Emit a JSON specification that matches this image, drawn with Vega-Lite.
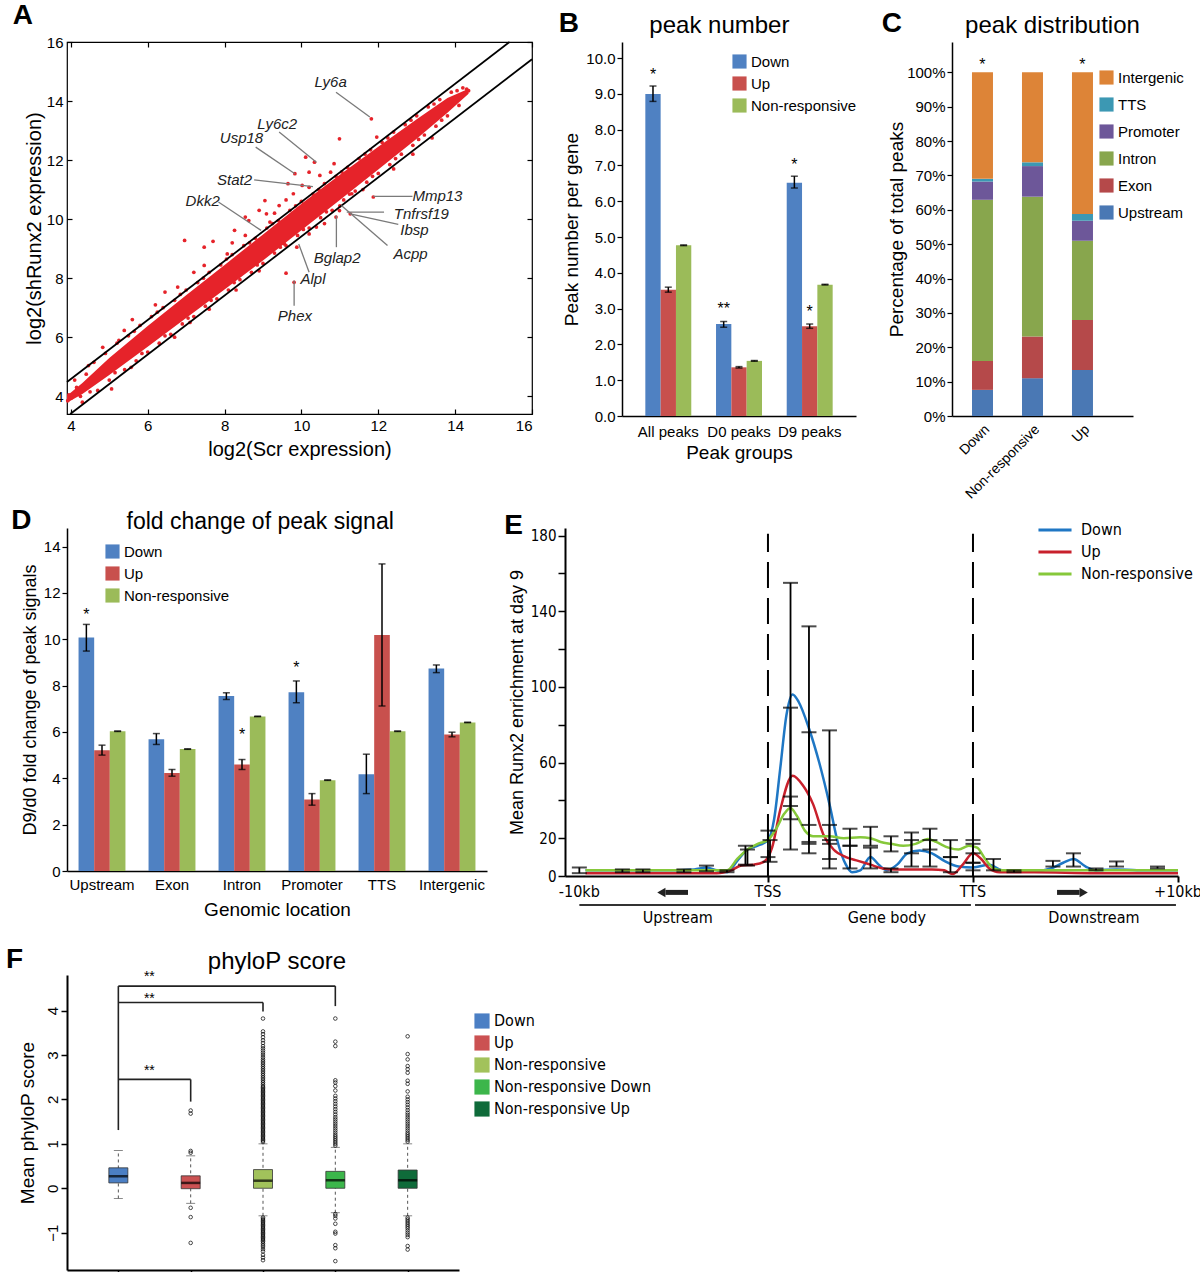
{
"$schema":"https://vega.github.io/schema/vega-lite/v6.json",
"background":"white",
"padding":{"left":6,"top":2,"right":0,"bottom":0},
"spacing":5,
"resolve":{"scale":{"color":"independent","xOffset":"independent"}},
"config":{
 "font":"Liberation Sans",
 "view":{"stroke":null},
 "axis":{"grid":false,"labelOverlap":false,"domainColor":"#000","tickColor":"#000","labelColor":"#000","titleColor":"#000","titleFontWeight":"normal","labelFontSize":14,"titleFontSize":18,"domainWidth":1.5,"tickWidth":1.2},
 "legend":{"labelColor":"#000","labelFontSize":15},
 "title":{"fontWeight":"normal","fontSize":24,"color":"#000"},
 "text":{"color":"#000"}
},
"vconcat":[
{"hconcat":[
 {"title":{"text":"A","anchor":"start","frame":"bounds","fontSize":28,"fontWeight":"bold","offset":-24,"dx":-11},
  "vconcat":[{
   "title":{"text":" ","fontSize":24,"offset":4},
   "width":465,"height":372,
   "view":{"stroke":"#000","strokeWidth":1.2},
   "resolve":{"axis":{"x":"independent","y":"independent"}},
   "layer":[
    {"data":{"values":[{"x":3.9,"lo":3.78,"hi":4.02},{"x":4.3,"lo":4.08,"hi":4.45},{"x":5,"lo":4.72,"hi":5.3},{"x":6,"lo":5.68,"hi":6.38},{"x":7,"lo":6.65,"hi":7.42},{"x":8,"lo":7.62,"hi":8.45},{"x":9,"lo":8.6,"hi":9.48},{"x":10,"lo":9.62,"hi":10.52},{"x":11,"lo":10.65,"hi":11.5},{"x":12,"lo":11.68,"hi":12.45},{"x":13,"lo":12.72,"hi":13.38},{"x":13.8,"lo":13.6,"hi":14.1},{"x":14.35,"lo":14.25,"hi":14.42}]},
     "mark":{"type":"area","color":"#e6232a"},
     "encoding":{
      "x":{"field":"x","type":"quantitative","scale":{"domain":[3.9,16],"nice":false,"zero":false},"axis":{"values":[4,6,8,10,12,14,16],"tickCount":7,"labelOverlap":false,"title":"log2(Scr expression)","titleFontSize":20,"labelFontSize":15,"tickSize":-5,"domain":false,"labelPadding":9,"titlePadding":6}},
      "y":{"field":"lo","type":"quantitative","scale":{"domain":[3.4,16],"nice":false,"zero":false},"axis":{"values":[4,6,8,10,12,14,16],"tickCount":7,"labelOverlap":false,"title":"log2(shRunx2 expression)","titleFontSize":20,"labelFontSize":15,"tickSize":-5,"domain":false,"labelPadding":9,"titlePadding":2}},
      "y2":{"field":"hi"}}},
    {"data":{"values":[
{"x":4.1,"y":4.55},{"x":4.6,"y":5.15},{"x":4.9,"y":5.45},{"x":5.2,"y":5.8},{"x":5.5,"y":6.05},{"x":5.8,"y":6.4},{"x":6.1,"y":6.7},{"x":6.4,"y":7.0},{"x":6.7,"y":7.25},{"x":7.0,"y":7.6},{"x":7.3,"y":7.85},{"x":7.6,"y":8.2},{"x":7.9,"y":8.45},{"x":8.2,"y":8.8},{"x":8.5,"y":9.1},{"x":8.8,"y":9.35},{"x":9.1,"y":9.7},{"x":9.4,"y":9.95},{"x":9.7,"y":10.3},{"x":10.0,"y":10.6},{"x":10.3,"y":10.85},{"x":10.6,"y":11.2},{"x":10.9,"y":11.45},{"x":11.2,"y":11.75},{"x":11.5,"y":12.05},{"x":11.8,"y":12.35},{"x":12.1,"y":12.6},{"x":12.4,"y":12.95},{"x":12.7,"y":13.2},{"x":13.0,"y":13.5},{"x":13.3,"y":13.8},{"x":13.6,"y":14.05},{"x":13.9,"y":14.3},{"x":14.2,"y":14.45},
{"x":4.4,"y":4.75},{"x":5.65,"y":6.2},{"x":6.25,"y":6.85},{"x":6.85,"y":7.45},{"x":7.45,"y":8.0},{"x":8.05,"y":8.65},{"x":8.65,"y":9.2},{"x":9.25,"y":9.85},{"x":9.85,"y":10.45},{"x":10.45,"y":11.0},{"x":11.05,"y":11.6},{"x":11.65,"y":12.2},{"x":12.25,"y":12.75},{"x":12.85,"y":13.35},{"x":13.45,"y":13.9},{"x":14.05,"y":14.35},
{"x":4.3,"y":3.8},{"x":4.7,"y":4.2},{"x":5.0,"y":4.55},{"x":5.4,"y":4.9},{"x":5.7,"y":5.2},{"x":6.0,"y":5.5},{"x":6.3,"y":5.8},{"x":6.6,"y":6.1},{"x":6.9,"y":6.45},{"x":7.2,"y":6.7},{"x":7.5,"y":7.05},{"x":7.8,"y":7.3},{"x":8.1,"y":7.6},{"x":8.4,"y":7.95},{"x":8.7,"y":8.2},{"x":9.0,"y":8.5},{"x":9.3,"y":8.85},{"x":9.6,"y":9.1},{"x":9.9,"y":9.45},{"x":10.2,"y":9.7},{"x":10.5,"y":10.05},{"x":10.8,"y":10.3},{"x":11.1,"y":10.65},{"x":11.4,"y":10.95},{"x":11.7,"y":11.25},{"x":12.0,"y":11.55},{"x":12.3,"y":11.85},{"x":12.6,"y":12.2},{"x":12.9,"y":12.5},{"x":13.2,"y":12.85},{"x":13.5,"y":13.15},{"x":13.8,"y":13.5},{"x":14.1,"y":13.85},
{"x":4.5,"y":4.15},{"x":5.15,"y":4.8},{"x":5.85,"y":5.45},{"x":6.45,"y":6.05},{"x":7.05,"y":6.65},{"x":7.65,"y":7.25},{"x":8.25,"y":7.85},{"x":8.85,"y":8.45},{"x":9.45,"y":9.05},{"x":10.05,"y":9.65},{"x":10.65,"y":10.25},{"x":11.25,"y":10.85},{"x":11.85,"y":11.45},{"x":12.45,"y":12.05},{"x":13.05,"y":12.7},{"x":13.65,"y":13.35},
{"x":3.92,"y":3.85},{"x":3.95,"y":4.05},{"x":4.02,"y":3.95},{"x":4.15,"y":4.3},{"x":4.25,"y":4.0},{"x":14.3,"y":14.4},{"x":14.35,"y":14.35},
{"x":11.82,"y":13.4},{"x":10.99,"y":12.72},{"x":11.96,"y":12.78},{"x":10.11,"y":12.1},{"x":10.34,"y":11.93},{"x":10.85,"y":11.88},{"x":9.83,"y":11.54},{"x":10.2,"y":11.59},{"x":10.48,"y":11.48},{"x":10.76,"y":11.59},{"x":9.65,"y":11.2},{"x":10.02,"y":11.14},{"x":9.79,"y":10.86},{"x":10.2,"y":11.08},{"x":9.05,"y":10.63},{"x":9.42,"y":10.46},{"x":9.09,"y":10.18},{"x":8.63,"y":9.95},{"x":9.18,"y":9.9},{"x":8.26,"y":9.62},{"x":8.54,"y":9.45},{"x":6.96,"y":9.28},{"x":7.7,"y":9.25},{"x":7.47,"y":9.05},{"x":8.07,"y":8.82},{"x":7.47,"y":8.43},{"x":6.45,"y":7.53},{"x":6.78,"y":7.7},{"x":5.39,"y":6.23},{"x":4.83,"y":5.66},{"x":5.25,"y":5.89},{"x":4.46,"y":5.04},{"x":8.54,"y":10.07},{"x":8.9,"y":10.3},{"x":9.6,"y":10.65},{"x":9.3,"y":10.2},{"x":8.2,"y":9.2},{"x":7.2,"y":8.2},{"x":6.2,"y":7.1},{"x":5.6,"y":6.6},
{"x":11.87,"y":10.75},{"x":10.99,"y":10.29},{"x":11.27,"y":10.18},{"x":10.9,"y":10.07},{"x":11.31,"y":10.86},{"x":11.6,"y":11.0},{"x":9.88,"y":9.05},{"x":9.56,"y":9.16},{"x":9.81,"y":7.86},{"x":9.6,"y":8.17},{"x":10.2,"y":9.5},{"x":10.39,"y":9.73},{"x":5.06,"y":4.25},{"x":5.57,"y":4.98},{"x":8.3,"y":7.6},{"x":8.9,"y":8.25},{"x":7.6,"y":6.95},{"x":12.4,"y":11.7},{"x":12.9,"y":12.2},{"x":13.4,"y":12.75},{"x":6.7,"y":6.0},{"x":10.6,"y":9.85},{"x":11.0,"y":10.45},{"x":7.1,"y":6.5}]},
     "mark":{"type":"circle","color":"#e6232a","size":14,"opacity":1},
     "encoding":{"x":{"field":"x","type":"quantitative","axis":null},"y":{"field":"y","type":"quantitative","axis":null}}},
    {"data":{"values":[{"x":3.9,"y":4.485,"x2":15.415,"y2":16},{"x":3.985,"y":3.4,"x2":16,"y2":15.415}]},
     "mark":{"type":"rule","color":"#000","strokeWidth":1.8},
     "encoding":{"x":{"field":"x","type":"quantitative","axis":{"orient":"top","values":[4,6,8,10,12,14,16],"tickCount":7,"labels":false,"title":null,"tickSize":-5,"domain":false}},"y":{"field":"y","type":"quantitative","axis":{"orient":"right","values":[4,6,8,10,12,14,16],"tickCount":7,"labels":false,"title":null,"tickSize":-5,"domain":false}},"x2":{"field":"x2"},"y2":{"field":"y2"}}},
    {"data":{"values":[{"x":10.9,"y":14.3,"x2":11.78,"y2":13.46},{"x":9.42,"y":12.95,"x2":10.39,"y2":11.93},{"x":8.81,"y":12.44,"x2":9.83,"y2":11.54},{"x":8.77,"y":11.33,"x2":10.3,"y2":11.1},{"x":7.84,"y":10.58,"x2":8.95,"y2":9.62},{"x":12.89,"y":10.77,"x2":11.87,"y2":10.77},{"x":12.15,"y":10.24,"x2":11.18,"y2":10.24},{"x":12.52,"y":9.82,"x2":11.27,"y2":10.18},{"x":12.24,"y":9.11,"x2":11.04,"y2":10.46},{"x":10.91,"y":9.05,"x2":10.91,"y2":10.12},{"x":10.2,"y":8.2,"x2":9.93,"y2":9.16},{"x":9.81,"y":7.07,"x2":9.81,"y2":7.92}]},
     "mark":{"type":"rule","color":"#7a7a7a","strokeWidth":1.3},
     "encoding":{"x":{"field":"x","type":"quantitative","axis":null},"y":{"field":"y","type":"quantitative","axis":null},"x2":{"field":"x2"},"y2":{"field":"y2"}}},
    {"data":{"values":[{"x":10.76,"y":14.64,"t":"Ly6a"},{"x":9.37,"y":13.23,"t":"Ly6c2"},{"x":8.44,"y":12.76,"t":"Usp18"},{"x":8.26,"y":11.33,"t":"Stat2"},{"x":7.43,"y":10.63,"t":"Dkk2"},{"x":13.54,"y":10.8,"t":"Mmp13"},{"x":13.12,"y":10.18,"t":"Tnfrsf19"},{"x":12.94,"y":9.62,"t":"Ibsp"},{"x":12.84,"y":8.82,"t":"Acpp"},{"x":10.93,"y":8.69,"t":"Bglap2"},{"x":10.3,"y":7.98,"t":"Alpl"},{"x":9.83,"y":6.73,"t":"Phex"}]},
     "mark":{"type":"text","fontStyle":"italic","fontSize":15,"color":"#222"},
     "encoding":{"x":{"field":"x","type":"quantitative","axis":null},"y":{"field":"y","type":"quantitative","axis":null},"text":{"field":"t"}}}
   ]}]},
 {"title":{"text":"B","anchor":"start","frame":"bounds","fontSize":28,"fontWeight":"bold","offset":-24,"dx":-4},
  "vconcat":[{
   "title":{"text":"peak number","fontSize":24,"offset":4,"frame":"bounds","dx":10},
   "width":234,"height":374,
   "data":{"values":[
{"g":"All peaks","s":"Down","v":9.0,"lo":8.79,"hi":9.22},
{"g":"All peaks","s":"Up","v":3.53,"lo":3.46,"hi":3.6},
{"g":"All peaks","s":"Non-responsive","v":4.77,"lo":4.76,"hi":4.78},
{"g":"D0 peaks","s":"Down","v":2.57,"lo":2.48,"hi":2.64},
{"g":"D0 peaks","s":"Up","v":1.36,"lo":1.34,"hi":1.38},
{"g":"D0 peaks","s":"Non-responsive","v":1.54,"lo":1.53,"hi":1.55},
{"g":"D9 peaks","s":"Down","v":6.52,"lo":6.37,"hi":6.7},
{"g":"D9 peaks","s":"Up","v":2.51,"lo":2.45,"hi":2.57},
{"g":"D9 peaks","s":"Non-responsive","v":3.67,"lo":3.66,"hi":3.68}]},
   "encoding":{
    "x":{"field":"g","type":"nominal","sort":["All peaks","D0 peaks","D9 peaks"],"scale":{"paddingInner":0.35,"paddingOuter":0.33,"align":0.5},"axis":{"title":"Peak groups","labelAngle":0,"ticks":false,"labelFontSize":15,"titleFontSize":19,"labelPadding":8,"titlePadding":4}},
    "xOffset":{"field":"s","type":"nominal","sort":["Down","Up","Non-responsive"],"scale":{"paddingInner":0,"paddingOuter":0}}},
   "layer":[
    {"mark":"bar","encoding":{
      "y":{"field":"v","type":"quantitative","scale":{"domain":[0,10.45],"nice":false},"axis":{"values":[0,1,2,3,4,5,6,7,8,9,10],"tickCount":11,"labelOverlap":false,"format":".1f","title":"Peak number per gene","titleFontSize":19,"labelFontSize":15,"tickSize":5}},
      "color":{"field":"s","type":"nominal","scale":{"domain":["Down","Up","Non-responsive"],"range":["#4f81c2","#c8504d","#9bbb59"]},"legend":{"title":null,"orient":"none","legendX":110,"legendY":12,"symbolType":"square","symbolSize":200,"labelFontSize":15,"rowPadding":6,"symbolStrokeWidth":0}}}},
    {"mark":{"type":"rule","strokeWidth":1.5,"color":"#000"},"encoding":{"y":{"field":"lo","type":"quantitative"},"y2":{"field":"hi"}}},
    {"mark":{"type":"tick","orient":"horizontal","size":7,"thickness":1.5,"color":"#000"},"encoding":{"y":{"field":"lo","type":"quantitative"}}},
    {"mark":{"type":"tick","orient":"horizontal","size":7,"thickness":1.5,"color":"#000"},"encoding":{"y":{"field":"hi","type":"quantitative"}}},
    {"data":{"values":[{"g":"All peaks","s":"Down","y":9.67,"t":"*"},{"g":"D0 peaks","s":"Down","y":3.12,"t":"**"},{"g":"D9 peaks","s":"Down","y":7.16,"t":"*"},{"g":"D9 peaks","s":"Up","y":3.05,"t":"*"}]},
     "mark":{"type":"text","fontSize":16,"baseline":"middle","dy":5},
     "encoding":{"y":{"field":"y","type":"quantitative"},"text":{"field":"t"}}}
   ]}]},
 {"title":{"text":"C","anchor":"start","frame":"bounds","fontSize":28,"fontWeight":"bold","offset":-24,"dx":-6},
  "vconcat":[{
   "title":{"text":"peak distribution","fontSize":24,"offset":4,"dx":10},
   "width":181,"height":374,
   "layer":[
    {"data":{"values":[
{"grp":"Down","loc":"Upstream","v":7.6,"k":1},{"grp":"Down","loc":"Exon","v":8.4,"k":2},{"grp":"Down","loc":"Intron","v":46.9,"k":3},{"grp":"Down","loc":"Promoter","v":5.3,"k":4},{"grp":"Down","loc":"TTS","v":0.8,"k":5},{"grp":"Down","loc":"Intergenic","v":31.0,"k":6},
{"grp":"Non-responsive","loc":"Upstream","v":11.0,"k":1},{"grp":"Non-responsive","loc":"Exon","v":12.1,"k":2},{"grp":"Non-responsive","loc":"Intron","v":40.7,"k":3},{"grp":"Non-responsive","loc":"Promoter","v":8.9,"k":4},{"grp":"Non-responsive","loc":"TTS","v":1.1,"k":5},{"grp":"Non-responsive","loc":"Intergenic","v":26.2,"k":6},
{"grp":"Up","loc":"Upstream","v":13.4,"k":1},{"grp":"Up","loc":"Exon","v":14.5,"k":2},{"grp":"Up","loc":"Intron","v":23.1,"k":3},{"grp":"Up","loc":"Promoter","v":5.8,"k":4},{"grp":"Up","loc":"TTS","v":2.0,"k":5},{"grp":"Up","loc":"Intergenic","v":41.2,"k":6}]},
     "mark":"bar",
     "encoding":{
      "x":{"field":"grp","type":"nominal","sort":["Down","Non-responsive","Up"],"scale":{"paddingInner":0.58,"paddingOuter":0.6,"align":0.333},"axis":{"title":null,"labelAngle":-45,"ticks":false,"labelFontSize":14,"labelPadding":6}},
      "y":{"field":"v","type":"quantitative","stack":"zero","scale":{"domain":[0,108.8],"nice":false},"axis":{"values":[0,10,20,30,40,50,60,70,80,90,100],"tickCount":11,"labelOverlap":false,"labelExpr":"datum.value + '%'","title":"Percentage of total peaks","titleFontSize":19,"labelFontSize":15,"tickSize":5,"titlePadding":0}},
      "order":{"field":"k","type":"quantitative","sort":"ascending"},
      "color":{"field":"loc","type":"nominal","scale":{"domain":["Intergenic","TTS","Promoter","Intron","Exon","Upstream"],"range":["#dd8437","#3c98b3","#6d5799","#88a64d","#b5494a","#4a78b4"]},"legend":{"title":null,"orient":"none","legendX":147,"legendY":28,"symbolType":"square","symbolSize":200,"labelFontSize":15,"rowPadding":11,"symbolStrokeWidth":0}}}},
    {"data":{"values":[{"grp":"Down","y":103.6,"t":"*"},{"grp":"Up","y":103.6,"t":"*"}]},
     "mark":{"type":"text","fontSize":16,"baseline":"middle","dy":5},
     "encoding":{"x":{"field":"grp","type":"nominal","sort":["Down","Non-responsive","Up"]},"y":{"field":"y","type":"quantitative"},"text":{"field":"t"}}}
   ]}]}
],"spacing":24,"resolve":{"scale":{"color":"independent","xOffset":"independent"}}},
{"hconcat":[
 {"title":{"text":"D","anchor":"start","frame":"bounds","fontSize":28,"fontWeight":"bold","offset":-24,"dx":-10},
  "vconcat":[{
   "title":{"text":"fold change of peak signal","fontSize":23,"offset":-6,"frame":"bounds","dx":6},
   "width":420,"height":343,
   "data":{"values":[
{"g":"Upstream","s":"Down","v":10.07,"lo":9.49,"hi":10.64},{"g":"Upstream","s":"Up","v":5.21,"lo":5.0,"hi":5.43},{"g":"Upstream","s":"Non-responsive","v":6.03,"lo":6.02,"hi":6.04},
{"g":"Exon","s":"Down","v":5.69,"lo":5.46,"hi":5.93},{"g":"Exon","s":"Up","v":4.23,"lo":4.09,"hi":4.38},{"g":"Exon","s":"Non-responsive","v":5.26,"lo":5.25,"hi":5.27},
{"g":"Intron","s":"Down","v":7.55,"lo":7.4,"hi":7.69},{"g":"Intron","s":"Up","v":4.59,"lo":4.38,"hi":4.81},{"g":"Intron","s":"Non-responsive","v":6.67,"lo":6.66,"hi":6.68},
{"g":"Promoter","s":"Down","v":7.71,"lo":7.26,"hi":8.2},{"g":"Promoter","s":"Up","v":3.08,"lo":2.84,"hi":3.34},{"g":"Promoter","s":"Non-responsive","v":3.92,"lo":3.91,"hi":3.93},
{"g":"TTS","s":"Down","v":4.18,"lo":3.34,"hi":5.04},{"g":"TTS","s":"Up","v":10.18,"lo":7.12,"hi":13.25},{"g":"TTS","s":"Non-responsive","v":6.03,"lo":6.02,"hi":6.04},
{"g":"Intergenic","s":"Down","v":8.74,"lo":8.56,"hi":8.89},{"g":"Intergenic","s":"Up","v":5.89,"lo":5.79,"hi":5.99},{"g":"Intergenic","s":"Non-responsive","v":6.41,"lo":6.4,"hi":6.42}]},
   "encoding":{
    "x":{"field":"g","type":"nominal","sort":["Upstream","Exon","Intron","Promoter","TTS","Intergenic"],"scale":{"paddingInner":0.33,"paddingOuter":0.165},"axis":{"title":"Genomic location","labelAngle":0,"ticks":false,"labelFontSize":15,"titleFontSize":19,"labelPadding":6,"titlePadding":8}},
    "xOffset":{"field":"s","type":"nominal","sort":["Down","Up","Non-responsive"],"scale":{"paddingInner":0,"paddingOuter":0}}},
   "layer":[
    {"mark":"bar","encoding":{
      "y":{"field":"v","type":"quantitative","scale":{"domain":[0,14.8],"nice":false},"axis":{"values":[0,2,4,6,8,10,12,14],"tickCount":8,"labelOverlap":false,"title":"D9/d0 fold change of peak signals","titleFontSize":18,"labelFontSize":15,"tickSize":5}},
      "color":{"field":"s","type":"nominal","scale":{"domain":["Down","Up","Non-responsive"],"range":["#4f81c2","#c8504d","#9bbb59"]},"legend":{"title":null,"orient":"none","legendX":38,"legendY":16,"symbolType":"square","symbolSize":200,"labelFontSize":15,"rowPadding":6,"symbolStrokeWidth":0}}}},
    {"mark":{"type":"rule","strokeWidth":1.5,"color":"#000"},"encoding":{"y":{"field":"lo","type":"quantitative"},"y2":{"field":"hi"}}},
    {"mark":{"type":"tick","orient":"horizontal","size":7,"thickness":1.5,"color":"#000"},"encoding":{"y":{"field":"lo","type":"quantitative"}}},
    {"mark":{"type":"tick","orient":"horizontal","size":7,"thickness":1.5,"color":"#000"},"encoding":{"y":{"field":"hi","type":"quantitative"}}},
    {"data":{"values":[{"g":"Upstream","s":"Down","y":11.26,"t":"*"},{"g":"Intron","s":"Up","y":6.08,"t":"*"},{"g":"Promoter","s":"Down","y":8.96,"t":"*"}]},
     "mark":{"type":"text","fontSize":16,"baseline":"middle","dy":5},
     "encoding":{"y":{"field":"y","type":"quantitative"},"text":{"field":"t"}}}
   ]}]},
 {"title":{"text":"E","anchor":"start","frame":"bounds","fontSize":28,"fontWeight":"bold","offset":-24,"dx":-4},
  "spacing":0,
  "vconcat":[
   {"title":{"text":" ","fontSize":10,"offset":-6},
    "width":613,"height":348,
    "layer":[
     {"data":{"values":[
{"s":"Down","u":-0.89,"v":3},{"s":"Down","u":-0.7,"v":3},{"s":"Down","u":-0.5,"v":3},{"s":"Down","u":-0.36,"v":3.5},{"s":"Down","u":-0.3,"v":4.5},{"s":"Down","u":-0.25,"v":3},{"s":"Down","u":-0.2,"v":2},{"s":"Down","u":-0.15,"v":8},{"s":"Down","u":-0.1,"v":14},{"s":"Down","u":-0.05,"v":16},{"s":"Down","u":0,"v":19},{"s":"Down","u":0.03,"v":30},{"s":"Down","u":0.06,"v":57},{"s":"Down","u":0.09,"v":85},{"s":"Down","u":0.12,"v":96},{"s":"Down","u":0.15,"v":92},{"s":"Down","u":0.2,"v":78},{"s":"Down","u":0.25,"v":60},{"s":"Down","u":0.3,"v":38},{"s":"Down","u":0.34,"v":18},{"s":"Down","u":0.38,"v":6},{"s":"Down","u":0.41,"v":2},{"s":"Down","u":0.45,"v":3},{"s":"Down","u":0.5,"v":10},{"s":"Down","u":0.54,"v":6},{"s":"Down","u":0.58,"v":3},{"s":"Down","u":0.63,"v":6},{"s":"Down","u":0.68,"v":12},{"s":"Down","u":0.74,"v":13.5},{"s":"Down","u":0.8,"v":12},{"s":"Down","u":0.86,"v":8},{"s":"Down","u":0.93,"v":5},{"s":"Down","u":1.0,"v":4.5},{"s":"Down","u":1.08,"v":6},{"s":"Down","u":1.14,"v":3},{"s":"Down","u":1.2,"v":2.5},{"s":"Down","u":1.3,"v":2.5},{"s":"Down","u":1.38,"v":4},{"s":"Down","u":1.44,"v":7},{"s":"Down","u":1.49,"v":9},{"s":"Down","u":1.55,"v":5},{"s":"Down","u":1.6,"v":3},{"s":"Down","u":1.7,"v":3.5},{"s":"Down","u":1.8,"v":3},{"s":"Down","u":1.9,"v":3},{"s":"Down","u":2.0,"v":3},
{"s":"Up","u":-0.89,"v":1.5},{"s":"Up","u":-0.5,"v":1.5},{"s":"Up","u":-0.25,"v":1.5},{"s":"Up","u":-0.18,"v":3},{"s":"Up","u":-0.13,"v":5.5},{"s":"Up","u":-0.07,"v":6},{"s":"Up","u":-0.02,"v":7.5},{"s":"Up","u":0.02,"v":15},{"s":"Up","u":0.06,"v":35},{"s":"Up","u":0.12,"v":53},{"s":"Up","u":0.17,"v":48},{"s":"Up","u":0.22,"v":38},{"s":"Up","u":0.27,"v":22},{"s":"Up","u":0.32,"v":14},{"s":"Up","u":0.38,"v":10},{"s":"Up","u":0.44,"v":8},{"s":"Up","u":0.5,"v":6},{"s":"Up","u":0.56,"v":4},{"s":"Up","u":0.62,"v":3.5},{"s":"Up","u":0.7,"v":3.5},{"s":"Up","u":0.8,"v":3.5},{"s":"Up","u":0.86,"v":3},{"s":"Up","u":0.9,"v":1},{"s":"Up","u":0.95,"v":6},{"s":"Up","u":1.0,"v":12},{"s":"Up","u":1.04,"v":9},{"s":"Up","u":1.08,"v":4},{"s":"Up","u":1.13,"v":2},{"s":"Up","u":1.3,"v":2},{"s":"Up","u":1.6,"v":1.5},{"s":"Up","u":2.0,"v":1.5},
{"s":"Non-responsive","u":-0.89,"v":3},{"s":"Non-responsive","u":-0.5,"v":3},{"s":"Non-responsive","u":-0.25,"v":3},{"s":"Non-responsive","u":-0.2,"v":3},{"s":"Non-responsive","u":-0.15,"v":9},{"s":"Non-responsive","u":-0.1,"v":14},{"s":"Non-responsive","u":-0.05,"v":17},{"s":"Non-responsive","u":0,"v":19},{"s":"Non-responsive","u":0.04,"v":25},{"s":"Non-responsive","u":0.08,"v":33},{"s":"Non-responsive","u":0.11,"v":36},{"s":"Non-responsive","u":0.14,"v":32},{"s":"Non-responsive","u":0.18,"v":24},{"s":"Non-responsive","u":0.22,"v":21},{"s":"Non-responsive","u":0.3,"v":21},{"s":"Non-responsive","u":0.37,"v":20},{"s":"Non-responsive","u":0.45,"v":20.5},{"s":"Non-responsive","u":0.5,"v":20},{"s":"Non-responsive","u":0.55,"v":18},{"s":"Non-responsive","u":0.6,"v":17},{"s":"Non-responsive","u":0.66,"v":16},{"s":"Non-responsive","u":0.72,"v":17},{"s":"Non-responsive","u":0.78,"v":19.5},{"s":"Non-responsive","u":0.82,"v":18},{"s":"Non-responsive","u":0.88,"v":15},{"s":"Non-responsive","u":0.93,"v":14},{"s":"Non-responsive","u":0.98,"v":16},{"s":"Non-responsive","u":1.02,"v":15},{"s":"Non-responsive","u":1.06,"v":9},{"s":"Non-responsive","u":1.1,"v":4},{"s":"Non-responsive","u":1.14,"v":3},{"s":"Non-responsive","u":1.5,"v":3},{"s":"Non-responsive","u":2.0,"v":3}]},
      "mark":{"type":"line","interpolate":"monotone","strokeWidth":2.5},
      "encoding":{
       "x":{"field":"u","type":"quantitative","scale":{"domain":[-0.99,2.0],"nice":false,"zero":false},"axis":{"values":[0,1,2],"tickCount":3,"labels":false,"title":null,"tickSize":6,"domainWidth":2,"tickWidth":2}},
       "y":{"field":"v","type":"quantitative","scale":{"domain":[0,184],"nice":false},"axis":{"values":[0,20,40,60,80,100,120,140,160,180],"tickCount":10,"labelOverlap":false,"labelExpr":"(datum.value == 0 || datum.value == 20 || datum.value == 60 || datum.value == 100 || datum.value == 140 || datum.value == 180) ? datum.label : ''","title":"Mean Runx2 enrichment  at day 9","titleFontSize":18,"labelFontSize":15,"labelFont":"Liberation Sans Narrow, DejaVu Sans Condensed, Liberation Sans","tickSize":7,"domainWidth":2,"tickWidth":1.5}},
       "color":{"field":"s","type":"nominal","scale":{"domain":["Down","Up","Non-responsive"],"range":["#1f77c4","#c8202c","#86c83a"]},"legend":{"title":null,"orient":"none","legendX":476,"legendY":-12,"symbolType":"M-1.35,0H1.35","symbolSize":600,"symbolStrokeWidth":3,"labelFontSize":16,"labelFont":"Liberation Sans Narrow, DejaVu Sans Condensed, Liberation Sans","rowPadding":0,"labelOffset":12}}}},
     {"data":{"values":[{"x":0},{"x":1}]},
      "mark":{"type":"rule","strokeDash":[26,10],"strokeWidth":2,"color":"#000"},
      "encoding":{"x":{"field":"x","type":"quantitative"},"y":{"datum":0,"type":"quantitative"},"y2":{"datum":181}}},
     {"data":{"name":"eb","values":[
{"u":-0.92,"lo":1.5,"hi":4.5},{"u":-0.71,"lo":2,"hi":3.5},{"u":-0.61,"lo":2,"hi":3.5},{"u":-0.41,"lo":2,"hi":3.5},{"u":-0.3,"lo":2.5,"hi":5.5},{"u":-0.2,"lo":2,"hi":3},{"u":-0.11,"lo":6,"hi":16},{"u":-0.1,"lo":5.5,"hi":14},{"u":0,"lo":10,"hi":24},{"u":0.01,"lo":7.5,"hi":19},
{"u":0.11,"lo":37,"hi":155},{"u":0.11,"lo":14,"hi":89},{"u":0.11,"lo":30,"hi":42},
{"u":0.2,"lo":18,"hi":132},{"u":0.2,"lo":12,"hi":76},{"u":0.2,"lo":17,"hi":27},
{"u":0.3,"lo":4,"hi":77},{"u":0.3,"lo":9,"hi":19},{"u":0.3,"lo":17,"hi":27},
{"u":0.4,"lo":16,"hi":25},{"u":0.4,"lo":4,"hi":16},{"u":0.5,"lo":16,"hi":26},{"u":0.5,"lo":4,"hi":15},{"u":0.6,"lo":13,"hi":21},{"u":0.6,"lo":2,"hi":4},{"u":0.7,"lo":12,"hi":23},{"u":0.7,"lo":5,"hi":19},{"u":0.79,"lo":14,"hi":25},{"u":0.79,"lo":5,"hi":19},{"u":0.89,"lo":10,"hi":19},{"u":0.89,"lo":2,"hi":10},{"u":1.0,"lo":12,"hi":19},{"u":1.0,"lo":7,"hi":17},{"u":1.0,"lo":3,"hi":7},{"u":1.1,"lo":3,"hi":9},{"u":1.2,"lo":2,"hi":3},{"u":1.39,"lo":5,"hi":8},{"u":1.49,"lo":5,"hi":12},{"u":1.6,"lo":3,"hi":4},{"u":1.7,"lo":5,"hi":7.7},{"u":1.9,"lo":4,"hi":5}]},
      "mark":{"type":"rule","strokeWidth":1.8,"color":"#000"},
      "encoding":{"x":{"field":"u","type":"quantitative"},"y":{"field":"lo","type":"quantitative"},"y2":{"field":"hi"}}},
     {"data":{"name":"eb"},"mark":{"type":"tick","orient":"horizontal","size":15,"thickness":2,"color":"#000"},
      "encoding":{"x":{"field":"u","type":"quantitative"},"y":{"field":"lo","type":"quantitative"}}},
     {"data":{"name":"eb"},"mark":{"type":"tick","orient":"horizontal","size":15,"thickness":2,"color":"#000"},
      "encoding":{"x":{"field":"u","type":"quantitative"},"y":{"field":"hi","type":"quantitative"}}}
    ]},
   {"width":613,"height":57,
    "layer":[
     {"data":{"values":[{"u":-0.92,"t":"-10kb"},{"u":0,"t":"TSS"},{"u":1,"t":"TTS"},{"u":2,"t":"+10kb"}]},
      "mark":{"type":"text","fontSize":16,"font":"Liberation Sans Narrow, DejaVu Sans Condensed, Liberation Sans"},
      "encoding":{"x":{"field":"u","type":"quantitative","scale":{"domain":[-0.99,2.0],"nice":false,"zero":false},"axis":null},"y":{"datum":3.2,"type":"quantitative","scale":{"domain":[-1.43,4],"nice":false,"zero":false},"axis":null},"text":{"field":"t"}}},
     {"data":{"values":[{"a":-0.92,"b":-0.01},{"a":0.01,"b":0.99},{"a":1.01,"b":1.99}]},
      "mark":{"type":"rule","strokeWidth":2,"color":"#333"},
      "encoding":{"x":{"field":"a","type":"quantitative"},"x2":{"field":"b"},"y":{"datum":2.0,"type":"quantitative"}}},
     {"data":{"values":[{"u":-0.44,"t":"Upstream"},{"u":0.58,"t":"Gene body"},{"u":1.59,"t":"Downstream"}]},
      "mark":{"type":"text","fontSize":16,"font":"Liberation Sans Narrow, DejaVu Sans Condensed, Liberation Sans"},
      "encoding":{"x":{"field":"u","type":"quantitative"},"y":{"datum":0.8,"type":"quantitative"},"text":{"field":"t"}}},
     {"data":{"values":[{"a":-0.5,"b":-0.39},{"a":1.41,"b":1.52}]},
      "mark":{"type":"rule","strokeWidth":5,"color":"#222"},
      "encoding":{"x":{"field":"a","type":"quantitative"},"x2":{"field":"b"},"y":{"datum":3.2,"type":"quantitative"}}},
     {"data":{"values":[{"u":-0.52}]},
      "mark":{"type":"point","shape":"triangle-left","filled":true,"size":90,"color":"#222","opacity":1},
      "encoding":{"x":{"field":"u","type":"quantitative"},"y":{"datum":3.2,"type":"quantitative"}}},
     {"data":{"values":[{"u":1.54}]},
      "mark":{"type":"point","shape":"triangle-right","filled":true,"size":90,"color":"#222","opacity":1},
      "encoding":{"x":{"field":"u","type":"quantitative"},"y":{"datum":3.2,"type":"quantitative"}}}
    ]}
  ]}
],"spacing":17,"resolve":{"scale":{"color":"independent","xOffset":"independent"}}},
{"title":{"text":"F","anchor":"start","frame":"bounds","fontSize":28,"fontWeight":"bold","offset":-24,"dx":-12},
 "vconcat":[{
  "title":{"text":"phyloP score","fontSize":24,"offset":-4,"dx":14},
  "width":392,"height":295,
  "encoding":{"x":{"field":"c","type":"nominal","scale":{"type":"point","padding":0.71,"domain":["Down","Up","Non-responsive","Non-responsive Down","Non-responsive Up"]},"axis":{"title":null,"labels":false,"tickSize":6,"domainWidth":2,"tickWidth":1.5}}},
  "layer":[
   {"data":{"name":"box","values":[
{"c":"Down","q1":0.12,"q3":0.46,"med":0.27,"wlo":-0.23,"whi":0.85},
{"c":"Up","q1":-0.01,"q3":0.28,"med":0.12,"wlo":-0.34,"whi":0.73},
{"c":"Non-responsive","q1":0.0,"q3":0.42,"med":0.17,"wlo":-0.62,"whi":1.0},
{"c":"Non-responsive Down","q1":0.0,"q3":0.38,"med":0.18,"wlo":-0.55,"whi":0.92},
{"c":"Non-responsive Up","q1":0.0,"q3":0.41,"med":0.18,"wlo":-0.62,"whi":1.0}]},
    "mark":{"type":"rule","strokeDash":[3,3],"color":"#555","strokeWidth":1},
    "encoding":{"y":{"field":"wlo","type":"quantitative","scale":{"domain":[-1.84,4.8],"nice":false,"zero":false},"axis":{"values":[-1,0,1,2,3,4],"tickCount":6,"labelOverlap":false,"labelAngle":-90,"labelAlign":"center","labelBaseline":"bottom","title":"Mean phyloP score","titleFontSize":19,"labelFontSize":15,"tickSize":6,"domainWidth":2,"tickWidth":1.5,"labelPadding":1,"titlePadding":8}},"y2":{"field":"whi"}}},
   {"data":{"name":"box"},"mark":{"type":"tick","orient":"horizontal","size":9,"thickness":1,"color":"#555"},"encoding":{"y":{"field":"wlo","type":"quantitative"}}},
   {"data":{"name":"box"},"mark":{"type":"tick","orient":"horizontal","size":9,"thickness":1,"color":"#555"},"encoding":{"y":{"field":"whi","type":"quantitative"}}},
   {"data":{"name":"box"},"mark":{"type":"bar","width":19,"stroke":"#333","strokeWidth":0.8},
    "encoding":{"y":{"field":"q1","type":"quantitative"},"y2":{"field":"q3"},
     "color":{"field":"c","type":"nominal","scale":{"domain":["Down","Up","Non-responsive","Non-responsive Down","Non-responsive Up"],"range":["#4b7fc4","#cb5152","#a2c25b","#3cb64b","#0f6b3a"]},"legend":{"title":null,"orient":"none","legendX":407,"legendY":38,"symbolType":"square","symbolSize":230,"labelFontSize":16,"labelFont":"Liberation Sans Narrow, DejaVu Sans Condensed, Liberation Sans","rowPadding":6,"symbolStrokeWidth":0}}}},
   {"data":{"name":"box"},"mark":{"type":"tick","orient":"horizontal","size":19,"thickness":2.5,"color":"#000"},"encoding":{"y":{"field":"med","type":"quantitative"}}},
   {"data":{"values":[
{"c":"Up","v":0.8},{"c":"Up","v":0.84},{"c":"Up","v":1.68},{"c":"Up","v":1.75},{"c":"Up","v":-0.44},{"c":"Up","v":-0.65},{"c":"Up","v":-1.23},
{"c":"Non-responsive","v":1.04},{"c":"Non-responsive","v":1.07},{"c":"Non-responsive","v":1.1},{"c":"Non-responsive","v":1.13},{"c":"Non-responsive","v":1.16},{"c":"Non-responsive","v":1.19},{"c":"Non-responsive","v":1.22},{"c":"Non-responsive","v":1.25},{"c":"Non-responsive","v":1.28},{"c":"Non-responsive","v":1.31},{"c":"Non-responsive","v":1.34},{"c":"Non-responsive","v":1.37},{"c":"Non-responsive","v":1.4},{"c":"Non-responsive","v":1.43},{"c":"Non-responsive","v":1.46},{"c":"Non-responsive","v":1.49},{"c":"Non-responsive","v":1.52},{"c":"Non-responsive","v":1.55},{"c":"Non-responsive","v":1.58},{"c":"Non-responsive","v":1.61},{"c":"Non-responsive","v":1.64},{"c":"Non-responsive","v":1.67},{"c":"Non-responsive","v":1.7},{"c":"Non-responsive","v":1.73},{"c":"Non-responsive","v":1.76},{"c":"Non-responsive","v":1.79},{"c":"Non-responsive","v":1.82},{"c":"Non-responsive","v":1.85},{"c":"Non-responsive","v":1.88},{"c":"Non-responsive","v":1.91},{"c":"Non-responsive","v":1.94},{"c":"Non-responsive","v":1.97},{"c":"Non-responsive","v":2.0},{"c":"Non-responsive","v":2.03},{"c":"Non-responsive","v":2.06},{"c":"Non-responsive","v":2.09},{"c":"Non-responsive","v":2.12},{"c":"Non-responsive","v":2.15},{"c":"Non-responsive","v":2.18},{"c":"Non-responsive","v":2.21},{"c":"Non-responsive","v":2.24},{"c":"Non-responsive","v":2.27},{"c":"Non-responsive","v":2.3},{"c":"Non-responsive","v":2.34},{"c":"Non-responsive","v":2.38},{"c":"Non-responsive","v":2.42},{"c":"Non-responsive","v":2.46},{"c":"Non-responsive","v":2.5},{"c":"Non-responsive","v":2.54},{"c":"Non-responsive","v":2.58},{"c":"Non-responsive","v":2.62},{"c":"Non-responsive","v":2.66},{"c":"Non-responsive","v":2.7},{"c":"Non-responsive","v":2.74},{"c":"Non-responsive","v":2.78},{"c":"Non-responsive","v":2.82},{"c":"Non-responsive","v":2.86},{"c":"Non-responsive","v":2.9},{"c":"Non-responsive","v":2.95},{"c":"Non-responsive","v":3.0},{"c":"Non-responsive","v":3.05},{"c":"Non-responsive","v":3.1},{"c":"Non-responsive","v":3.15},{"c":"Non-responsive","v":3.2},{"c":"Non-responsive","v":3.27},{"c":"Non-responsive","v":3.33},{"c":"Non-responsive","v":3.4},{"c":"Non-responsive","v":3.47},{"c":"Non-responsive","v":3.53},{"c":"Non-responsive","v":3.82},
{"c":"Non-responsive","v":-0.66},{"c":"Non-responsive","v":-0.69},{"c":"Non-responsive","v":-0.72},{"c":"Non-responsive","v":-0.75},{"c":"Non-responsive","v":-0.78},{"c":"Non-responsive","v":-0.81},{"c":"Non-responsive","v":-0.84},{"c":"Non-responsive","v":-0.87},{"c":"Non-responsive","v":-0.9},{"c":"Non-responsive","v":-0.93},{"c":"Non-responsive","v":-0.96},{"c":"Non-responsive","v":-0.99},{"c":"Non-responsive","v":-1.02},{"c":"Non-responsive","v":-1.05},{"c":"Non-responsive","v":-1.08},{"c":"Non-responsive","v":-1.11},{"c":"Non-responsive","v":-1.14},{"c":"Non-responsive","v":-1.17},{"c":"Non-responsive","v":-1.2},{"c":"Non-responsive","v":-1.24},{"c":"Non-responsive","v":-1.28},{"c":"Non-responsive","v":-1.32},{"c":"Non-responsive","v":-1.37},{"c":"Non-responsive","v":-1.42},{"c":"Non-responsive","v":-1.5},{"c":"Non-responsive","v":-1.56},{"c":"Non-responsive","v":-1.62},
{"c":"Non-responsive Down","v":0.96},{"c":"Non-responsive Down","v":1.0},{"c":"Non-responsive Down","v":1.04},{"c":"Non-responsive Down","v":1.08},{"c":"Non-responsive Down","v":1.12},{"c":"Non-responsive Down","v":1.16},{"c":"Non-responsive Down","v":1.2},{"c":"Non-responsive Down","v":1.25},{"c":"Non-responsive Down","v":1.3},{"c":"Non-responsive Down","v":1.35},{"c":"Non-responsive Down","v":1.4},{"c":"Non-responsive Down","v":1.45},{"c":"Non-responsive Down","v":1.5},{"c":"Non-responsive Down","v":1.55},{"c":"Non-responsive Down","v":1.6},{"c":"Non-responsive Down","v":1.66},{"c":"Non-responsive Down","v":1.72},{"c":"Non-responsive Down","v":1.78},{"c":"Non-responsive Down","v":1.84},{"c":"Non-responsive Down","v":1.9},{"c":"Non-responsive Down","v":1.96},{"c":"Non-responsive Down","v":2.02},{"c":"Non-responsive Down","v":2.08},{"c":"Non-responsive Down","v":2.2},{"c":"Non-responsive Down","v":2.3},{"c":"Non-responsive Down","v":2.38},{"c":"Non-responsive Down","v":2.43},{"c":"Non-responsive Down","v":3.2},{"c":"Non-responsive Down","v":3.3},{"c":"Non-responsive Down","v":3.82},
{"c":"Non-responsive Down","v":-0.58},{"c":"Non-responsive Down","v":-0.62},{"c":"Non-responsive Down","v":-0.68},{"c":"Non-responsive Down","v":-0.8},{"c":"Non-responsive Down","v":-0.98},{"c":"Non-responsive Down","v":-1.02},{"c":"Non-responsive Down","v":-1.28},{"c":"Non-responsive Down","v":-1.35},{"c":"Non-responsive Down","v":-1.64},
{"c":"Non-responsive Up","v":1.05},{"c":"Non-responsive Up","v":1.09},{"c":"Non-responsive Up","v":1.13},{"c":"Non-responsive Up","v":1.17},{"c":"Non-responsive Up","v":1.21},{"c":"Non-responsive Up","v":1.25},{"c":"Non-responsive Up","v":1.3},{"c":"Non-responsive Up","v":1.35},{"c":"Non-responsive Up","v":1.4},{"c":"Non-responsive Up","v":1.45},{"c":"Non-responsive Up","v":1.5},{"c":"Non-responsive Up","v":1.55},{"c":"Non-responsive Up","v":1.6},{"c":"Non-responsive Up","v":1.65},{"c":"Non-responsive Up","v":1.7},{"c":"Non-responsive Up","v":1.76},{"c":"Non-responsive Up","v":1.82},{"c":"Non-responsive Up","v":1.88},{"c":"Non-responsive Up","v":1.94},{"c":"Non-responsive Up","v":2.0},{"c":"Non-responsive Up","v":2.06},{"c":"Non-responsive Up","v":2.18},{"c":"Non-responsive Up","v":2.35},{"c":"Non-responsive Up","v":2.42},{"c":"Non-responsive Up","v":2.6},{"c":"Non-responsive Up","v":2.68},{"c":"Non-responsive Up","v":2.75},{"c":"Non-responsive Up","v":2.9},{"c":"Non-responsive Up","v":3.02},{"c":"Non-responsive Up","v":3.42},
{"c":"Non-responsive Up","v":-0.66},{"c":"Non-responsive Up","v":-0.7},{"c":"Non-responsive Up","v":-0.74},{"c":"Non-responsive Up","v":-0.78},{"c":"Non-responsive Up","v":-0.82},{"c":"Non-responsive Up","v":-0.86},{"c":"Non-responsive Up","v":-0.9},{"c":"Non-responsive Up","v":-0.95},{"c":"Non-responsive Up","v":-1.0},{"c":"Non-responsive Up","v":-1.05},{"c":"Non-responsive Up","v":-1.1},{"c":"Non-responsive Up","v":-1.3},{"c":"Non-responsive Up","v":-1.38}]},
    "mark":{"type":"point","shape":"circle","filled":false,"size":13,"strokeWidth":0.7,"color":"#000","opacity":1},
    "encoding":{"y":{"field":"v","type":"quantitative"}}},
   {"data":{"values":[{"a":"Down","b":"Down","y1":1.31,"y2":4.55},{"a":"Down","b":"Up","y1":2.45,"y2":2.45},{"a":"Up","b":"Up","y1":1.95,"y2":2.45},{"a":"Down","b":"Non-responsive","y1":4.18,"y2":4.18},{"a":"Non-responsive","b":"Non-responsive","y1":3.98,"y2":4.18},{"a":"Down","b":"Non-responsive Down","y1":4.55,"y2":4.55},{"a":"Non-responsive Down","b":"Non-responsive Down","y1":4.1,"y2":4.55}]},
    "mark":{"type":"rule","strokeWidth":1.6,"color":"#222"},
    "encoding":{"x":{"field":"a","type":"nominal"},"x2":{"field":"b"},"y":{"field":"y1","type":"quantitative"},"y2":{"field":"y2"}}},
   {"data":{"values":[{"c":"Down","y":2.72,"t":"**"},{"c":"Down","y":4.35,"t":"**"},{"c":"Down","y":4.84,"t":"**"}]},
    "mark":{"type":"text","fontSize":14,"dx":31,"baseline":"middle","dy":4},
    "encoding":{"y":{"field":"y","type":"quantitative"},"text":{"field":"t"}}}
  ]}]}
]
}
